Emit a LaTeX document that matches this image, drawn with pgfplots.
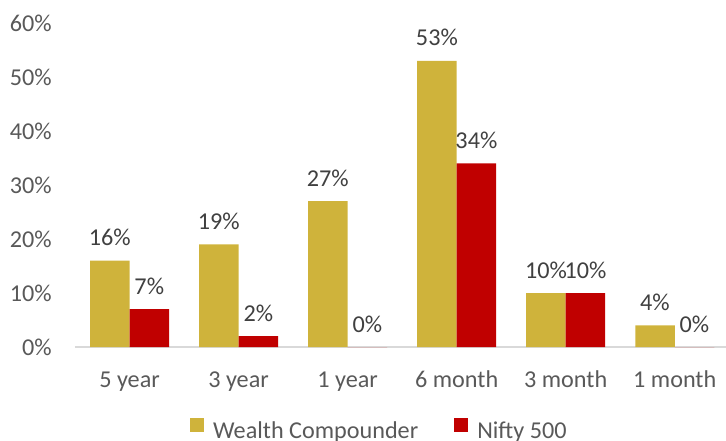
\documentclass[border=0pt]{standalone}
\usepackage{pgfplots}
\pgfplotsset{compat=1.18}
\usepackage{fontspec}
\setmainfont{Carlito}
\definecolor{wcgold}{RGB}{207,179,59}
\definecolor{niftyred}{RGB}{192,0,0}
\definecolor{txtgray}{RGB}{89,89,89}
\definecolor{axgray}{RGB}{217,217,217}
\begin{document}
\begin{tikzpicture}
\begin{axis}[
  scale only axis,
  width=325.5bp, height=162bp,
  at={(0,0)}, anchor=south west,
  ybar=0pt, bar width=19.75bp,
  ymin=0, ymax=60,
  xmin=-0.5, xmax=5.47,
  ytick={0,10,20,30,40,50,60},
  xtick={0,1,2,3,4,5},
  xticklabels={5 year,3 year,1 year,6 month,3 month,1 month},
  yticklabel={\pgfmathprintnumber{\tick}\%},
  /pgf/number format/assume math mode=true,
  axis x line*=bottom, axis y line*=left,
  x axis line style={axgray, line width=1bp, -},
  y axis line style={draw=none},
  major tick length=0pt,
  tick style={draw=none},
  font=\fontsize{12.1bp}{14bp}\selectfont,
  yticklabel style={anchor=east, inner sep=0pt, xshift=-11.5bp, text=txtgray},
  xticklabel style={anchor=base, inner sep=0pt, yshift=-20bp, text=txtgray},
  nodes near coords={\pgfmathprintnumber{\pgfplotspointmeta}\%},
  every node near coord/.append style={anchor=base, inner sep=0pt, yshift=7.5bp, text=black!75, font=\fontsize{12.1bp}{14bp}\selectfont},
  legend columns=2,
  legend style={at={(axis description cs:0.469,-0.26)}, anchor=center, draw=none, fill=none, inner sep=0pt,
     font=\fontsize{12.1bp}{14bp}\selectfont, text=txtgray,
     /tikz/every odd column/.append style={column sep=2.5bp},
     /tikz/every even column/.append style={column sep=16bp}},
  legend image code/.code={\fill[#1] (0bp,-0.5bp) rectangle (7bp,6.5bp);},
  clip=false,
]
\addplot[fill=wcgold, draw=none] coordinates {(0,16) (1,19) (2,27) (3,53) (4,10) (5,4)};
\addplot[fill=niftyred, draw=none] coordinates {(0,7) (1,2) (2,0) (3,34) (4,10) (5,0)};
\legend{Wealth Compounder, Nifty 500}
\end{axis}
\pgfresetboundingbox
\path (-37.5bp,-47bp) rectangle (325.5bp,173.5bp);
\end{tikzpicture}
\end{document}
